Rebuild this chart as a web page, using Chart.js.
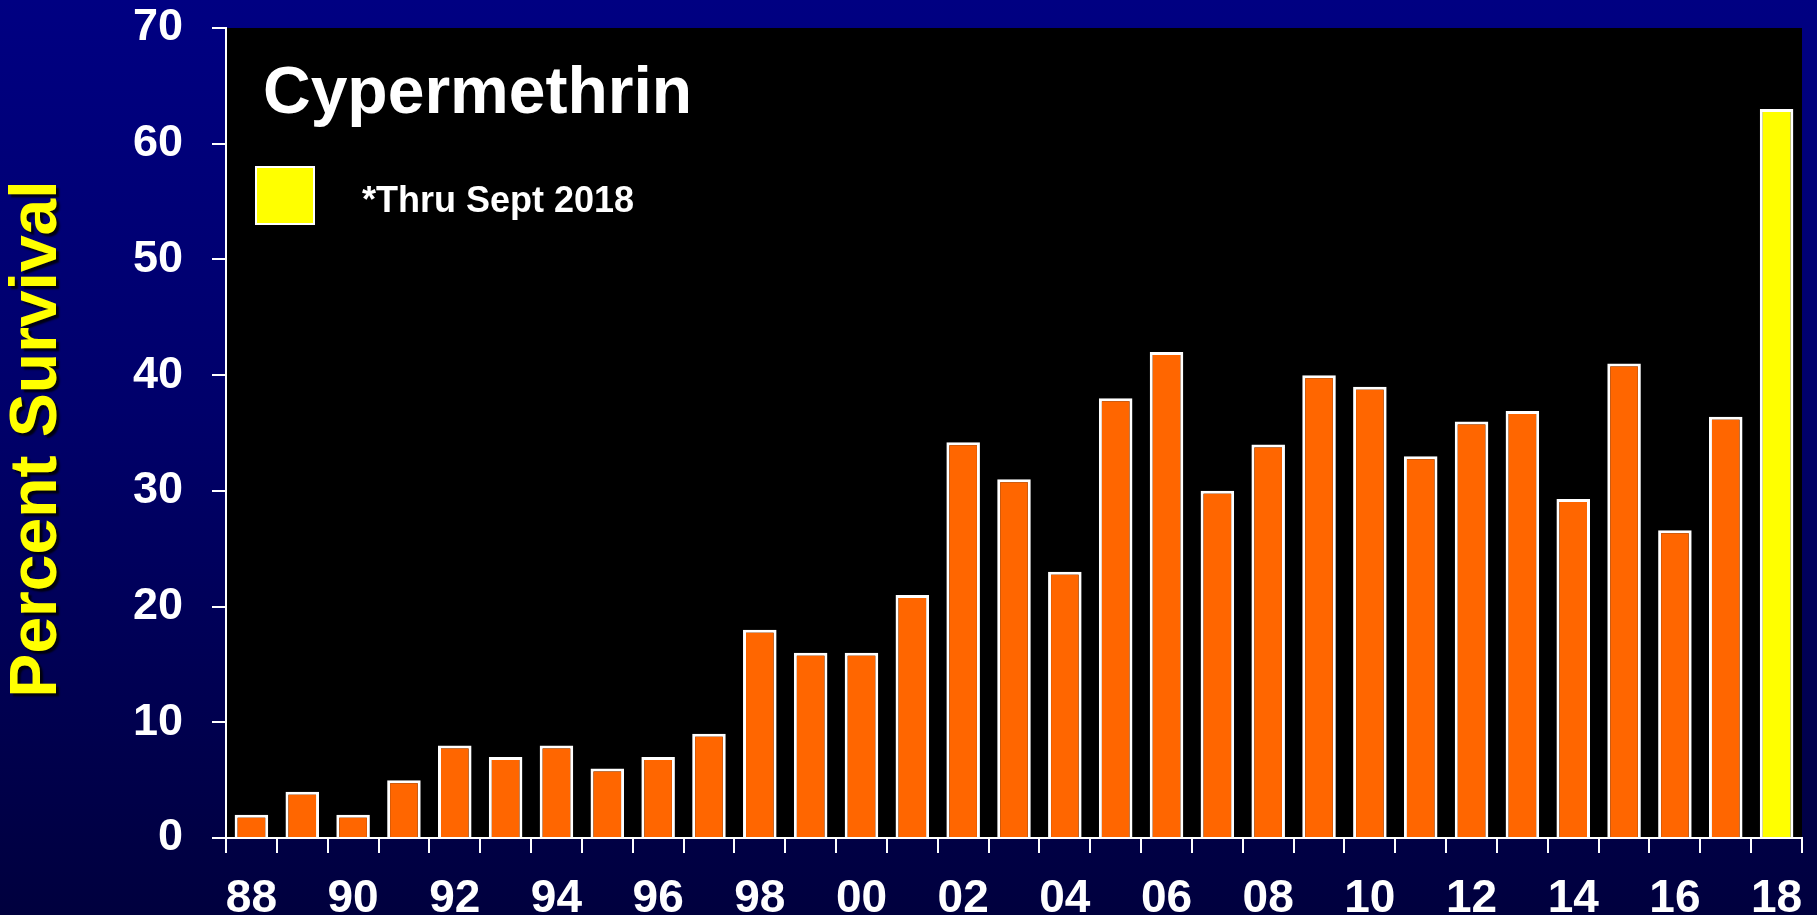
<!DOCTYPE html>
<html>
<head>
<meta charset="utf-8">
<script src="https://cdn.jsdelivr.net/npm/chart.js@4.4.1/dist/chart.umd.min.js"></script>
<style>
  html, body { margin: 0; padding: 0; }
  body {
    width: 1817px; height: 915px; overflow: hidden;
    background: linear-gradient(to bottom, #000082 0%, #00006a 45%, #00003e 100%);
  }
  #wrap { position: relative; width: 1817px; height: 915px; }
</style>
</head>
<body>
<div id="wrap"><canvas id="c" width="1817" height="915"></canvas></div>
<script>
// ---- data ----
const years = ['88','89','90','91','92','93','94','95','96','97','98','99',
               '00','01','02','03','04','05','06','07','08','09','10','11',
               '12','13','14','15','16','17','18'];
const survival = [2, 4, 2, 5, 8, 7, 8, 6, 7, 9, 18, 16,
                  16, 21, 34.2, 31, 23, 38, 42, 30, 34, 40, 39, 33,
                  36, 36.9, 29.3, 41, 26.6, 36.4, 63];
const shownLabels = ['88','90','92','94','96','98','00','02','04','06','08','10','12','14','16','18'];
const yTicks = [0, 10, 20, 30, 40, 50, 60, 70];
const chartTitle = 'Cypermethrin';
const legendText = '*Thru Sept 2018';
const axisTitle = 'Percent Survival';
const partialYear = '18';

const ORANGE = '#ff6600';
const YELLOW = '#ffff00';
const FONT = "'Liberation Sans', Arial, Helvetica, sans-serif";

const barColors = years.map(y => y === partialYear ? YELLOW : ORANGE);

const decorations = {
  id: 'decorations',
  beforeDraw(chart) {
    const { ctx, chartArea: a } = chart;
    ctx.save();
    ctx.fillStyle = '#000000';
    ctx.fillRect(a.left, a.top, a.right - a.left, a.bottom - a.top);
    ctx.restore();
  },
  afterDraw(chart) {
    const { ctx, chartArea: a } = chart;
    ctx.save();
    // chart title inside plot
    ctx.fillStyle = '#ffffff';
    ctx.font = 'bold 66px ' + FONT;
    ctx.textAlign = 'left';
    ctx.textBaseline = 'alphabetic';
    ctx.fillText(chartTitle, a.left + 37, 113);
    // legend box
    ctx.fillStyle = YELLOW;
    ctx.fillRect(a.left + 30, 167, 58, 57);
    ctx.strokeStyle = '#ffffff';
    ctx.lineWidth = 2;
    ctx.strokeRect(a.left + 30, 167, 58, 57);
    ctx.fillStyle = '#ffffff';
    ctx.font = 'bold 36px ' + FONT;
    ctx.fillText(legendText, a.left + 136, 212);
    ctx.restore();

    // y axis title with shadow
    ctx.save();
    ctx.translate(38, (a.top + a.bottom) / 2 + 6);
    ctx.rotate(-Math.PI / 2);
    ctx.font = 'bold 66px ' + FONT;
    ctx.textAlign = 'center';
    ctx.textBaseline = 'middle';
    ctx.shadowColor = 'rgba(0,0,0,0.85)';
    ctx.shadowOffsetX = 3;
    ctx.shadowOffsetY = 3;
    ctx.shadowBlur = 2;
    ctx.fillStyle = YELLOW;
    ctx.fillText(axisTitle, 0, 0);
    ctx.restore();
  }
};

new Chart(document.getElementById('c'), {
  type: 'bar',
  data: {
    labels: years,
    datasets: [{
      label: 'Percent Survival',
      data: survival,
      backgroundColor: barColors,
      borderColor: '#ffffff',
      borderWidth: 3,
      barPercentage: 0.66,
      categoryPercentage: 1.0
    }]
  },
  options: {
    responsive: false,
    animation: false,
    layout: { padding: { left: 0, right: 15, top: 28, bottom: 0 } },
    plugins: {
      legend: { display: false },
      title: { display: false },
      tooltip: { enabled: false }
    },
    scales: {
      x: {
        offset: true,
        grid: {
          display: true,
          offset: true,
          drawOnChartArea: false,
          drawTicks: true,
          tickLength: 15,
          color: '#ffffff',
          lineWidth: 2
        },
        border: { display: true, color: '#ffffff', width: 2 },
        ticks: {
          autoSkip: false,
          maxRotation: 0,
          minRotation: 0,
          padding: 19,
          color: '#ffffff',
          font: { family: FONT, weight: 'bold', size: 46 },
          callback: function (value, index) {
            const lab = years[index];
            return shownLabels.includes(lab) ? lab : '';
          }
        },
        afterFit(scale) {
          scale.height = 77;
          scale.paddingLeft = 0; scale.paddingRight = 0;
          scale.paddingTop = 0; scale.paddingBottom = 0;
        }
      },
      y: {
        min: 0,
        max: 70,
        afterBuildTicks(scale) { scale.ticks = yTicks.map(v => ({ value: v })); },
        grid: {
          display: true,
          drawOnChartArea: false,
          drawTicks: true,
          tickLength: 14,
          color: '#ffffff',
          lineWidth: 2
        },
        border: { display: true, color: '#ffffff', width: 2 },
        ticks: {
          padding: 29,
          color: '#ffffff',
          font: { family: FONT, weight: 'bold', size: 45 }
        },
        afterFit(scale) {
          scale.width = 226;
          scale.paddingLeft = 0; scale.paddingRight = 0;
          scale.paddingTop = 0; scale.paddingBottom = 0;
        }
      }
    }
  },
  plugins: [decorations]
});
</script>
</body>
</html>
